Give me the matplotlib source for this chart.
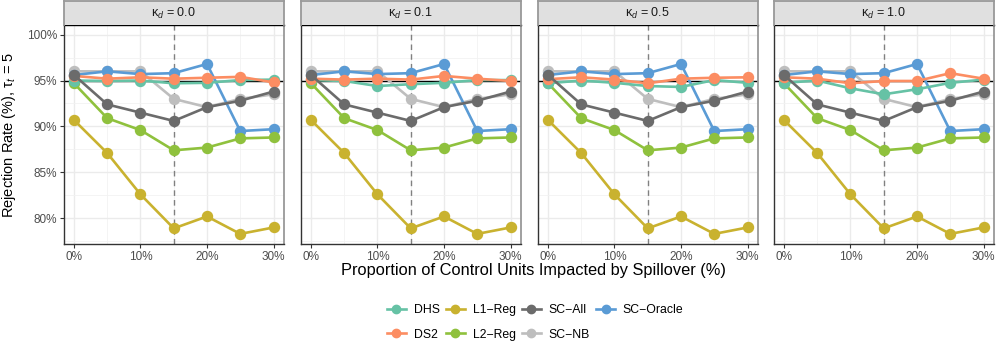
import matplotlib
matplotlib.use("Agg")
import matplotlib.pyplot as plt
from matplotlib.lines import Line2D

plt.rcParams['font.family'] = ['Liberation Sans', 'DejaVu Sans']
plt.rcParams['mathtext.fontset'] = 'custom'
plt.rcParams['mathtext.rm'] = 'Liberation Sans'
plt.rcParams['mathtext.it'] = 'Liberation Sans:italic'

# ---------------- data ----------------
proportions = [0, 5, 10, 15, 20, 25, 30]
kappas = ["0.0", "0.1", "0.5", "1.0"]
methods = ["DHS", "DS2", "L1−Reg", "L2−Reg", "SC−All", "SC−NB", "SC−Oracle"]

l1_reg = [90.7, 87.1, 82.6, 78.9, 80.2, 78.3, 79.0]
l2_reg = [94.7, 90.9, 89.6, 87.4, 87.7, 88.7, 88.8]
sc_all = [95.6, 92.4, 91.5, 90.6, 92.1, 92.8, 93.8]
sc_nb = [96.0, 96.0, 96.0, 93.0, 92.1, 93.0, 93.5]
sc_oracle = [95.6, 96.0, 95.7, 95.8, 96.8, 89.5, 89.7]

dhs_k00 = [95.0, 94.95, 95.0, 94.7, 94.75, 95.05, 95.1]
dhs_k01 = [95.05, 94.95, 94.4, 94.6, 94.75, 95.05, 95.05]
dhs_k05 = [94.7, 95.0, 94.75, 94.4, 94.3, 95.05, 94.75]
dhs_k10 = [94.75, 95.0, 94.15, 93.5, 94.05, 94.75, 95.1]

ds2_k00 = [95.5, 95.2, 95.35, 95.2, 95.3, 95.4, 94.8]
ds2_k01 = [95.2, 95.1, 95.2, 95.1, 95.5, 95.2, 94.95]
ds2_k05 = [95.15, 95.35, 95.1, 94.7, 95.2, 95.3, 95.35]
ds2_k10 = [95.35, 95.2, 94.7, 94.95, 94.95, 95.8, 95.2]

dhs_by_kappa = [dhs_k00, dhs_k01, dhs_k05, dhs_k10]
ds2_by_kappa = [ds2_k00, ds2_k01, ds2_k05, ds2_k10]

nominal_rate = 95
cutoff_prop = 15
y_ticks = [80, 85, 90, 95, 100]
x_ticks = [0, 10, 20, 30]

colors = {
    "DHS": "#66C2A5",
    "DS2": "#FC8D62",
    "L1−Reg": "#C9B22F",
    "L2−Reg": "#8FC13D",
    "SC−All": "#6B6B6B",
    "SC−NB": "#BEBEBE",
    "SC−Oracle": "#5A9BD5",
}
draw_order = ["SC−NB", "SC−Oracle", "L1−Reg", "L2−Reg", "DHS", "DS2", "SC−All"]

# ---------------- figure ----------------
W, H = 997, 344
fig = plt.figure(figsize=(W / 100, H / 100), dpi=100)

panel_left = [64, 301, 538, 774]
panel_w = 219.5
p_top, p_bot = 24.5, 244
strip_top = 1.0

for i, k in enumerate(kappas):
    x0 = panel_left[i]
    ax = fig.add_axes([x0 / W, (H - p_bot) / H, panel_w / W, (p_bot - p_top) / H])
    series = {
        "DHS": dhs_by_kappa[i],
        "DS2": ds2_by_kappa[i],
        "L1−Reg": l1_reg,
        "L2−Reg": l2_reg,
        "SC−All": sc_all,
        "SC−NB": sc_nb,
        "SC−Oracle": sc_oracle,
    }
    ax.set_xlim(-1.5, 31.5)
    ax.set_ylim(77.2, 101.1)
    ax.set_xticks(x_ticks)
    ax.set_xticks([5, 15, 25], minor=True)
    ax.set_yticks(y_ticks)
    ax.set_yticks([77.5, 82.5, 87.5, 92.5, 97.5], minor=True)
    ax.grid(which="major", color="#EBEBEB", lw=1.0, zorder=0)
    ax.grid(which="minor", color="#F2F2F2", lw=0.6, zorder=0)
    ax.set_axisbelow(True)
    ax.axhline(nominal_rate, color="black", lw=1.0, zorder=1)
    ax.axvline(cutoff_prop, color="#808080", lw=1.0, ls=(0, (4, 3)), zorder=1)
    for j, m in enumerate(draw_order):
        ax.plot(proportions, series[m], color=colors[m], lw=1.9, marker="o",
                markersize=7.2, zorder=2 + j, solid_capstyle="round")
    ax.set_xticklabels([f"{t}%" for t in x_ticks])
    if i == 0:
        ax.set_yticklabels([f"{t}%" for t in y_ticks])
    else:
        ax.set_yticklabels([])
    ax.tick_params(which="major", labelsize=8.5, labelcolor="#4D4D4D", color="#333333",
                   length=3, width=0.8, pad=2)
    ax.tick_params(which="minor", length=0)
    if i != 0:
        ax.tick_params(axis="y", which="major", length=0)
    for s in ["left", "bottom"]:
        ax.spines[s].set_color("#333333")
        ax.spines[s].set_linewidth(1.0)
    ax.spines["right"].set_color("#999999")
    ax.spines["right"].set_linewidth(1.3)
    ax.spines["top"].set_color("black")
    ax.spines["top"].set_linewidth(1.0)

    # strip
    sax = fig.add_axes([x0 / W, (H - p_top) / H, panel_w / W, (p_top - strip_top) / H])
    sax.set_xlim(0, 1)
    sax.set_ylim(0, 1)
    sax.set_xticks([])
    sax.set_yticks([])
    sax.set_facecolor("#E0E0E0")
    for s in sax.spines.values():
        s.set_color("#999999")
        s.set_linewidth(1.3)
    sax.spines["bottom"].set_visible(False)
    sax.text(0.5, 0.48, "κ$_{d}$ = " + k, ha="center", va="center",
             fontsize=9, color="#1A1A1A")

fig.text(9 / W, 1 - 135 / H, "Rejection Rate (%), τ$_{t}$ = 5", rotation=90,
         ha="center", va="center", fontsize=10.5)
fig.text(533 / W, 1 - 270 / H, "Proportion of Control Units Impacted by Spillover (%)",
         ha="center", va="center", fontsize=11.8)

handles = [Line2D([0], [0], color=colors[m], lw=1.9, marker="o", markersize=6)
           for m in methods]
fig.legend(handles, methods, loc="center", bbox_to_anchor=(535 / W, 1 - 322.5 / H),
           ncol=4, frameon=False, fontsize=8.8, handlelength=1.6, handletextpad=0.6,
           columnspacing=0.5, labelspacing=1.0)

fig.savefig("out.png", dpi=100)
